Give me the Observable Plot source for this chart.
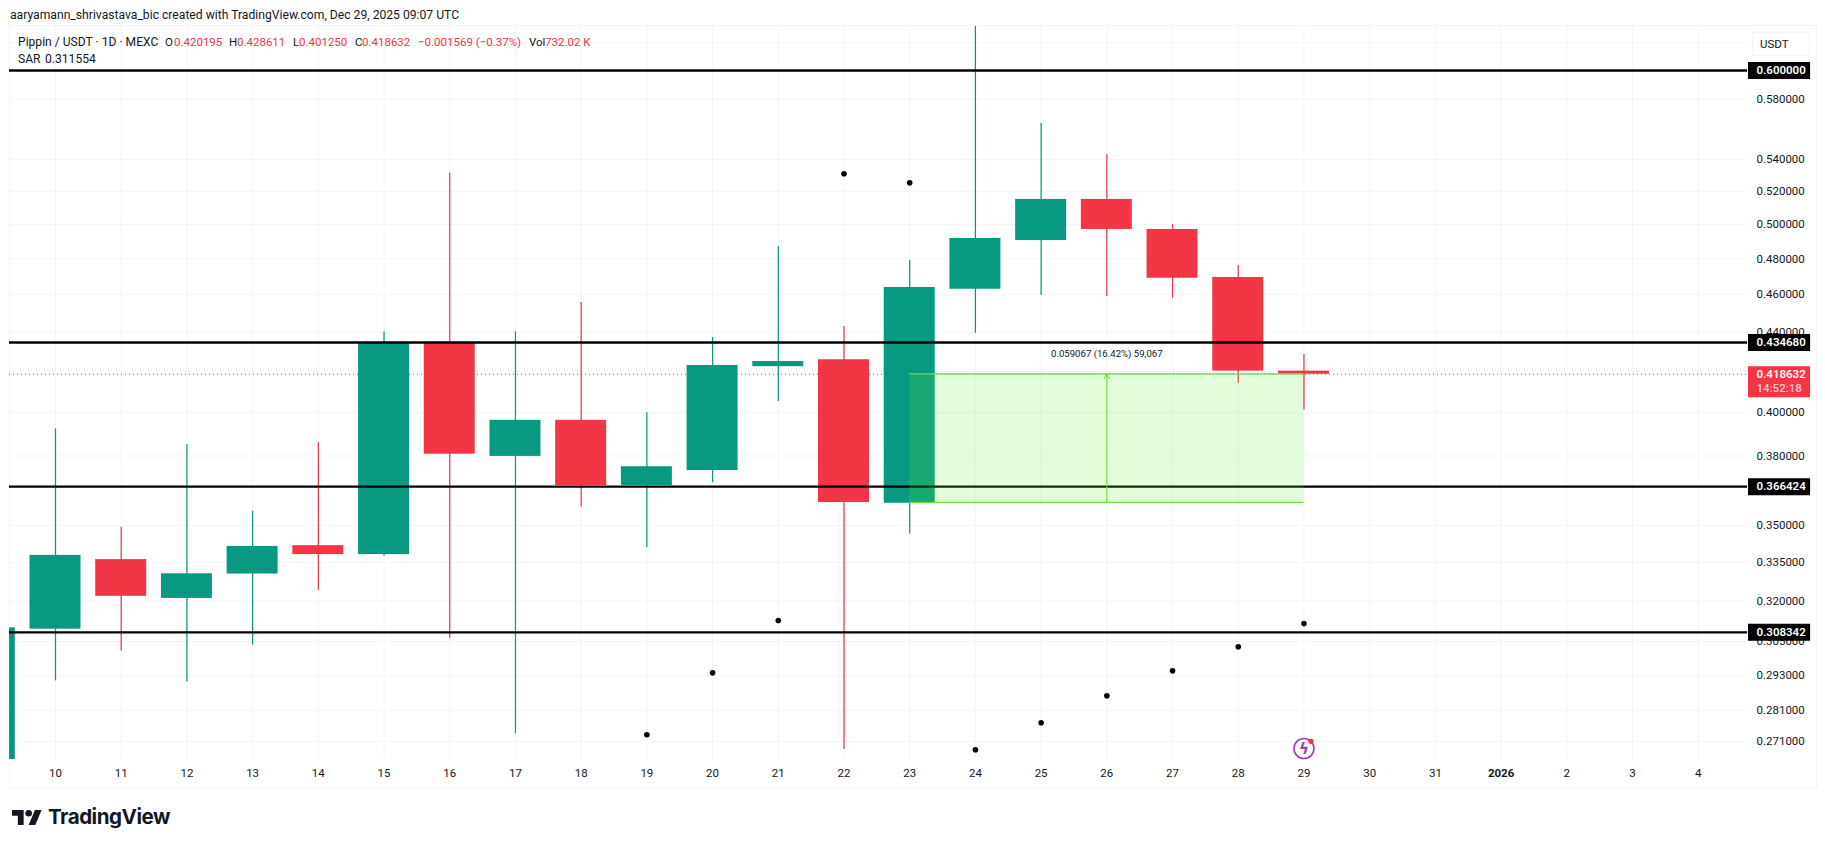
<!DOCTYPE html>
<html>
<head>
<meta charset="utf-8">
<script src="https://cdn.jsdelivr.net/npm/d3@7"></script>
<script src="https://cdn.jsdelivr.net/npm/@observablehq/plot@0.6"></script>
<style>
  html, body { margin: 0; padding: 0; background: #fff; width: 1825px; height: 847px; overflow: hidden; }
  body { position: relative; font-family: Roboto, sans-serif; color: #131722; }
  #credit { position: absolute; left: 10px; top: 7px; font-size: 12.15px; line-height: 16px; white-space: nowrap; }
  #pane { position: absolute; left: 9px; top: 25px; width: 1806px; height: 761px; border: 1px solid #f3f4f7; }
  #chart { position: absolute; left: 0; top: 26px; }
  #chart svg { display: block; background: transparent; }
  .leg { position: absolute; font-size: 11.5px; line-height: 16px; white-space: nowrap; }
  .neg { color: #f23645; }
  .name { font-size: 12.1px; }
  #usdt { position: absolute; left: 1752px; top: 32px; width: 58px; height: 24px; box-sizing: border-box; border: 1px solid #f3f4f7; border-radius: 3px; background: #fff; font-size: 11.5px; line-height: 22px; padding-left: 7px; box-shadow: 0 0 2px rgba(0,0,0,.05); }
  #logo { position: absolute; left: 12px; top: 806px; display: flex; align-items: center; gap: 6px; }
  #logo span { font-family: Inter, sans-serif; font-weight: 700; font-size: 20.6px; letter-spacing: -0.5px; line-height: 22px; color: #131722; }
</style>
</head>
<body>
<div id="credit">aaryamann_shrivastava_bic created with TradingView.com, Dec 29, 2025 09:07 UTC</div>
<div id="pane"></div>
<div id="chart"></div>
<div id="legend"></div>
<div id="usdt">USDT</div>
<div id="logo">
  <svg width="30" height="16" viewBox="0 0 36 19"><path fill="#131722" d="M14 19H7V8H0V1h14v18zM28 19h-8l7.5-18h8L28 19z"/><circle fill="#131722" cx="20" cy="5" r="4"/></svg>
  <span>TradingView</span>
</div>
<script>
// ---- data ----
const dayLabels = ["10","11","12","13","14","15","16","17","18","19","20","21","22","23","24","25","26","27","28","29","30","31","2026","2","3","4"];
const opens  = [0.3095,0.3361,0.3210,0.3304,0.3417,0.3381,0.4347,0.3798,0.3964,0.3669,0.3735,0.4224,0.4259,0.3593,0.4630,0.4905,0.5150,0.4970,0.4695,0.420195];
const highs  = [0.3924,0.3492,0.3852,0.3559,0.3861,0.4401,0.5312,0.4403,0.4558,0.4000,0.4373,0.4871,0.4430,0.4791,0.6321,0.5635,0.5432,0.4999,0.4762,0.428611];
const lows   = [0.2911,0.3016,0.2907,0.3037,0.3241,0.3375,0.3062,0.2734,0.3577,0.3409,0.3682,0.4054,0.2684,0.3464,0.4395,0.4596,0.4590,0.4581,0.4142,0.40125];
const closes = [0.3378,0.3218,0.3305,0.3414,0.3381,0.4347,0.3808,0.3964,0.3669,0.3752,0.4230,0.4250,0.3596,0.4640,0.4917,0.5150,0.4970,0.4691,0.4202,0.418632];
const sarDays = [9,10,11,12,13,14,15,16,17,18,19];
const sarValues = [0.2731,0.2939,0.3127,0.5309,0.5252,0.2683,0.2770,0.2860,0.2946,0.3031,0.311554];
const prevCandleClose = 0.3100;
const priceTicks = [0.58,0.54,0.52,0.50,0.48,0.46,0.44,0.40,0.38,0.35,0.335,0.32,0.305,0.293,0.281,0.271];
const hiddenGrid = [0.62,0.60,0.42];
const levels = [0.600000,0.434680,0.366424,0.308342];
const lastPrice = 0.418632;
const countdown = "14:52:18";
const rangeLow = 0.35972, rangeHigh = 0.418787, rangeFrom = 13, rangeTo = 19, rangeMid = 16;
const rangeLabel = "0.059067 (16.42%) 59,067";
const rangeLabelPrice = 0.4291;
const eventDay = 19, eventPrice = 0.2687, eventDotPrice = 0.2710;
const green = "#089981", red = "#f23645", gridColor = "#f3f4f6", ink = "#131722";

// ---- derived tables ----
const candles = opens.map((o, i) => ({i, o, h: highs[i], l: lows[i], c: closes[i], up: closes[i] >= o}));
const sar = sarDays.map((i, k) => ({i, v: sarValues[k]}));
const half = 0.388;
const labelLeft = 25.765, labelRight = 26.71;
const xDomain = [-0.7, 25.75], yDomain = [0.26522, 0.6321];
const dayIndex = d3.range(dayLabels.length);
const newYear = dayLabels.indexOf("2026");

const chart = Plot.plot({
  width: 1825, height: 761,
  marginLeft: 9, marginRight: 78, marginTop: 0, marginBottom: 28,
  style: {fontFamily: "Roboto, sans-serif", fontSize: "11.5px", color: ink, background: "transparent", overflow: "visible"},
  x: {type: "linear", domain: xDomain, axis: null},
  y: {type: "log", domain: yDomain, axis: null},
  marks: [
    Plot.ruleX(dayIndex, {x: d => d, stroke: gridColor, strokeWidth: 1}),
    Plot.ruleY([...priceTicks, ...hiddenGrid], {y: d => d, stroke: gridColor, strokeWidth: 1}),
    Plot.axisX({anchor: "bottom", ticks: dayIndex.filter(i => i !== newYear), tickFormat: i => dayLabels[i], tickSize: 0, tickPadding: 9, label: null, fill: ink, fontSize: 11.5}),
    Plot.axisX({anchor: "bottom", ticks: [newYear], tickFormat: i => dayLabels[i], tickSize: 0, tickPadding: 9, label: null, fill: ink, fontSize: 11.5, fontWeight: 700}),
    Plot.axisY({anchor: "right", ticks: priceTicks, tickFormat: d3.format(".6f"), tickSize: 0, tickPadding: 9, label: null, fill: ink, fontSize: 11.5}),
    Plot.ruleY([lastPrice], {stroke: red, strokeWidth: 1, strokeDasharray: "1 3"}),
    Plot.rect([{i: -1, o: yDomain[0], c: prevCandleClose}], {x1: d => d.i - half, x2: d => d.i + half, y1: "o", y2: "c", fill: green, clip: true}),
    Plot.ruleX(candles, {x: "i", y1: "l", y2: "h", stroke: d => d.up ? green : red, strokeWidth: 1.25}),
    Plot.rect(candles, {x1: d => d.i - half, x2: d => d.i + half, y1: "o", y2: "c", fill: d => d.up ? green : red}),
    Plot.ruleY(levels, {y: d => d, stroke: "#000", strokeWidth: 2.3}),
    Plot.rect([0], {x1: rangeFrom, x2: rangeTo, y1: rangeLow, y2: rangeHigh, fill: "#66ee33", fillOpacity: 0.18}),
    Plot.ruleY([rangeLow, rangeHigh], {y: d => d, x1: rangeFrom, x2: rangeTo, stroke: "#66e03a", strokeWidth: 1.2}),
    Plot.arrow([0], {x1: rangeMid, x2: rangeMid, y1: rangeLow, y2: rangeHigh, bend: 0, stroke: "#66e03a", strokeWidth: 1.1, headLength: 7, insetEnd: 0, insetStart: 0}),
    Plot.text([rangeLabel], {x: rangeMid, y: rangeLabelPrice, text: d => d, fill: ink, fontSize: 9.6}),
    Plot.dot(sar, {x: "i", y: "v", r: 2.8, fill: "#000", stroke: "none"}),
    Plot.dot([0], {x: eventDay, y: eventPrice, r: 10, fill: "#fff", stroke: "#9c3fb0", strokeWidth: 1.6}),
    Plot.text(["ϟ"], {x: eventDay, y: eventPrice, text: d => d, fill: "#9c3fb0", fontSize: 16, fontWeight: 700, fontFamily: "DejaVu Sans"}),
    Plot.dot([0], {x: eventDay, y: eventDotPrice, dx: 7, dy: 0, r: 2.6, fill: "#f23645", stroke: "none"}),
    Plot.ruleY(levels, {y: d => d, x1: labelLeft, x2: labelRight, stroke: "#000", strokeWidth: 17}),
    Plot.text(levels, {x: labelLeft, y: d => d, text: d3.format(".6f"), dx: 8, textAnchor: "start", fill: "#fff", fontWeight: 600, fontSize: 11.5}),
    Plot.ruleY([lastPrice], {x1: labelLeft, x2: labelRight, stroke: red, strokeWidth: 31, dy: 7.5}),
    Plot.text([lastPrice], {x: labelLeft, y: d => d, text: d3.format(".6f"), dx: 8, textAnchor: "start", fill: "#fff", fontWeight: 600, fontSize: 11.5}),
    Plot.text([lastPrice], {x: labelLeft, y: d => d, text: () => countdown, dx: 8, dy: 14, textAnchor: "start", fill: "#fcc9cf", fontWeight: 500, fontSize: 11.5})
  ]
});
document.getElementById("chart").append(chart);

// ---- legend rows ----
const legendItems = [
  ["Pippin / USDT · 1D · MEXC", 18, 34, "name"],
  ["O", 165, 34, ""], ["0.420195", 174, 34, "neg"],
  ["H", 229, 34, ""], ["0.428611", 237, 34, "neg"],
  ["L", 293, 34, ""], ["0.401250", 299, 34, "neg"],
  ["C", 355, 34, ""], ["0.418632", 362, 34, "neg"],
  ["−0.001569 (−0.37%)", 418, 34, "neg"],
  ["Vol", 529, 34, ""], ["732.02 K", 545, 34, "neg"],
  ["SAR", 18, 51, "name"], ["0.311554", 45, 51, "name"]
];
const legend = document.getElementById("legend");
for (const [t, l, tp, cls] of legendItems) {
  const s = document.createElement("div");
  s.className = "leg " + cls;
  s.style.left = l + "px"; s.style.top = tp + "px";
  s.textContent = t;
  legend.append(s);
}
</script>
</body>
</html>
